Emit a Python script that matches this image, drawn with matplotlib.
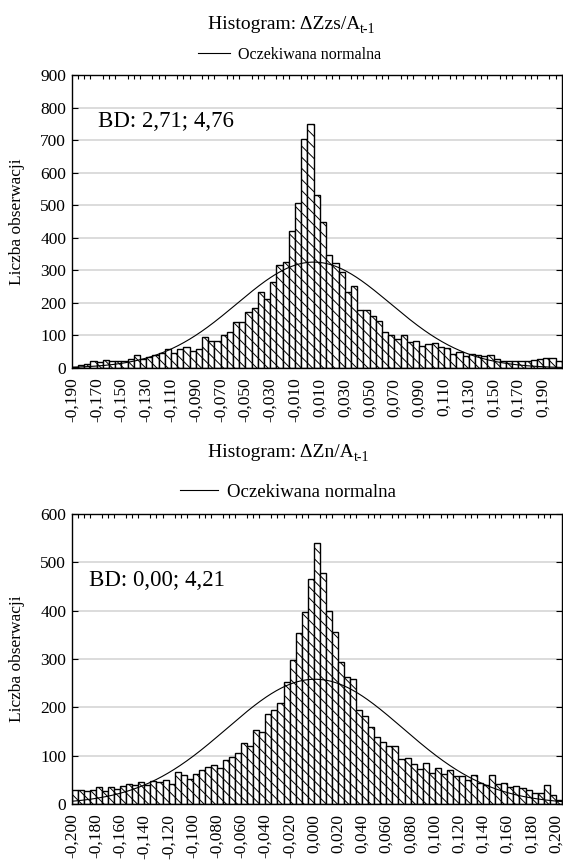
import numpy as np
import matplotlib
matplotlib.use("Agg")
import matplotlib.pyplot as plt
from matplotlib.lines import Line2D

# ------------------ CZCIONKI ------------------
plt.rcParams['font.family'] = ['Liberation Serif', 'DejaVu Serif']
plt.rcParams['hatch.linewidth'] = 0.7

# ------------------ DANE ------------------
SZER_KLASY = 0.005

# Histogram dZzs/A(t-1): klasy od -0,190 co 0,005
ZZS_START = -0.19
ZZS_LICZNOSCI = [3, 8, 13, 20, 17, 25, 22, 20, 23, 28, 40, 28, 35, 40, 45, 58, 45, 57,
                 64, 52, 57, 94, 84, 84, 102, 112, 141, 141, 172, 183, 233, 213, 263,
                 317, 325, 422, 506, 703, 751, 532, 449, 348, 324, 295, 233, 253, 177,
                 179, 159, 143, 112, 102, 89, 100, 79, 84, 68, 73, 77, 66, 61, 44, 48,
                 36, 42, 41, 38, 41, 29, 23, 23, 20, 20, 23, 25, 28, 30, 31, 20]
ZZS_SREDNIA = 0.005
ZZS_ODCH = 0.062
ZZS_TICKI = [-0.19, -0.17, -0.15, -0.13, -0.11, -0.09, -0.07, -0.05, -0.03, -0.01,
             0.01, 0.03, 0.05, 0.07, 0.09, 0.11, 0.13, 0.15, 0.17, 0.19]

# Histogram dZn/A(t-1): klasy od -0,200 co 0,005
ZN_START = -0.20
ZN_LICZNOSCI = [30, 29, 26, 30, 36, 27, 36, 31, 37, 42, 40, 46, 40, 47, 45, 50, 41, 67,
                60, 52, 63, 70, 77, 81, 74, 92, 98, 106, 127, 121, 153, 148, 186, 194,
                210, 253, 297, 353, 398, 466, 539, 477, 400, 355, 293, 263, 258, 194,
                182, 160, 138, 128, 121, 121, 93, 96, 82, 72, 84, 65, 74, 63, 70, 57,
                58, 50, 61, 43, 39, 60, 41, 43, 36, 37, 34, 30, 23, 23, 39, 19, 8]
ZN_SREDNIA = 0.001
ZN_ODCH = 0.0727
ZN_TICKI = [-0.20, -0.18, -0.16, -0.14, -0.12, -0.10, -0.08, -0.06, -0.04, -0.02,
            0.00, 0.02, 0.04, 0.06, 0.08, 0.10, 0.12, 0.14, 0.16, 0.18, 0.20]


# ------------------ RYSOWANIE ------------------
def format_tick(t):
    return f"{t:.3f}".replace(".", ",").replace("-0,000", "0,000")


def rysuj_histogram(ax, start, licznosci, srednia, odch, ticki, ymax, bd_tekst, bd_xy):
    licznosci = np.array(licznosci)
    krawedzie = start + SZER_KLASY * np.arange(len(licznosci))
    xmax = krawedzie[-1] + SZER_KLASY

    ax.bar(krawedzie, licznosci, width=SZER_KLASY, align="edge", color="white",
           edgecolor="black", linewidth=1.0, hatch="\\\\\\", zorder=2)

    # oczekiwana normalna
    n = licznosci.sum()
    xs = np.linspace(start, xmax, 500)
    ys = n * SZER_KLASY / (odch * np.sqrt(2 * np.pi)) * np.exp(-(xs - srednia) ** 2 / (2 * odch ** 2))
    ax.plot(xs, ys, color="black", linewidth=0.8, zorder=3)

    ax.set_xlim(start, xmax)
    ax.set_ylim(0, ymax)
    ax.set_yticks(np.arange(0, ymax + 1, 100))
    ax.yaxis.grid(True, color="#d9d9d9", linewidth=1.3, zorder=0)
    ax.set_axisbelow(True)

    ax.set_xticks(ticki)
    ax.set_xticklabels([format_tick(t) for t in ticki], rotation=90)
    ax.set_xticks(krawedzie, minor=True)
    ax.tick_params(axis="x", which="major", length=0, labelsize=12.5, pad=7)
    ax.tick_params(axis="x", which="minor", top=True, bottom=False, direction="in", length=3, width=0.8)
    ax.tick_params(axis="y", direction="in", right=True, length=4, labelsize=12.5, pad=4)

    for s in ax.spines.values():
        s.set_linewidth(1.0)

    ax.set_ylabel("Liczba obserwacji", fontsize=12.5)
    ax.yaxis.set_label_coords(-0.096, 0.5)
    ax.text(bd_xy[0], bd_xy[1], bd_tekst, transform=ax.transAxes, fontsize=16.5,
            ha="left", va="center", zorder=4)


def tytul(fig, x_sub, y, glowny):
    # tekst glowny konczy sie na x_sub, indeks dolny "t-1" zaczyna sie tam
    fig.text(x_sub / W, 1 - y / H, glowny, fontsize=14, ha="right", va="baseline")
    fig.text(x_sub / W, 1 - (y + 4) / H, "t-1", fontsize=10, ha="left", va="baseline")


W, H = 563, 860
fig = plt.figure(figsize=(W / 100, H / 100), dpi=100)

ax1 = fig.add_axes([71.8 / W, 1 - 368 / H, 490 / W, 293 / H])
rysuj_histogram(ax1, ZZS_START, ZZS_LICZNOSCI, ZZS_SREDNIA, ZZS_ODCH, ZZS_TICKI, 900,
                "BD: 2,71; 4,76", (0.053, 0.84))

ax2 = fig.add_axes([71.8 / W, 1 - 804 / H, 490 / W, 290 / H])
rysuj_histogram(ax2, ZN_START, ZN_LICZNOSCI, ZN_SREDNIA, ZN_ODCH, ZN_TICKI, 600,
                "BD: 0,00; 4,21", (0.035, 0.772))

# tytuly i legendy
linia = Line2D([], [], color="black", linewidth=0.8)
tytul(fig, 360, 29, "Histogram: ΔZzs/A")
fig.legend(handles=[linia], labels=["Oczekiwana normalna"], loc="center",
           bbox_to_anchor=(290 / W, 1 - 55 / H), frameon=False, fontsize=11.5,
           handlelength=2.0, handletextpad=0.5)

tytul(fig, 354, 457, "Histogram: ΔZn/A")
fig.legend(handles=[linia], labels=["Oczekiwana normalna"], loc="center",
           bbox_to_anchor=(288 / W, 1 - 492 / H), frameon=False, fontsize=13.5,
           handlelength=2.0, handletextpad=0.5)

fig.savefig("out.png", dpi=100)
